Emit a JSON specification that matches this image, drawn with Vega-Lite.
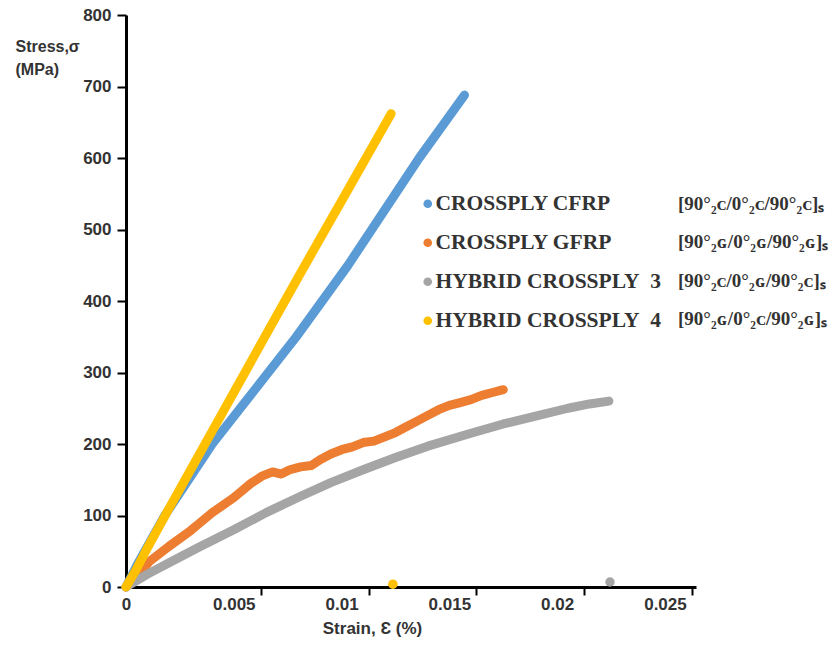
{
  "$schema": "https://vega.github.io/schema/vega-lite/v6.json",
  "width": 570,
  "height": 572,
  "autosize": {"type": "none"},
  "padding": {"left": 126, "top": 15, "right": 139, "bottom": 59},
  "background": "white",
  "config": {
    "view": {"stroke": null},
    "font": "Liberation Sans",
    "legend": {
      "orient": "none",
      "title": null,
      "padding": 0,
      "labelFont": "Liberation Serif",
      "labelFontSize": 21.5,
      "labelFontWeight": "bold",
      "labelColor": "#333333",
      "labelLimit": 0,
      "rowPadding": 16,
      "labelOffset": -3,
      "symbolSize": 75,
      "symbolType": "circle"
    }
  },
  "datasets": {
    "curves": [
      {"series": "CROSSPLY CFRP", "notation": "[90°₂ᴄ/0°₂ᴄ/90°₂ᴄ]ₛ", "strain": 0, "stress": 0},
      {"series": "CROSSPLY CFRP", "notation": "[90°₂ᴄ/0°₂ᴄ/90°₂ᴄ]ₛ", "strain": 0.0005, "stress": 30},
      {"series": "CROSSPLY CFRP", "notation": "[90°₂ᴄ/0°₂ᴄ/90°₂ᴄ]ₛ", "strain": 0.001, "stress": 57},
      {"series": "CROSSPLY CFRP", "notation": "[90°₂ᴄ/0°₂ᴄ/90°₂ᴄ]ₛ", "strain": 0.0018, "stress": 100},
      {"series": "CROSSPLY CFRP", "notation": "[90°₂ᴄ/0°₂ᴄ/90°₂ᴄ]ₛ", "strain": 0.0029, "stress": 150},
      {"series": "CROSSPLY CFRP", "notation": "[90°₂ᴄ/0°₂ᴄ/90°₂ᴄ]ₛ", "strain": 0.004, "stress": 200},
      {"series": "CROSSPLY CFRP", "notation": "[90°₂ᴄ/0°₂ᴄ/90°₂ᴄ]ₛ", "strain": 0.0053, "stress": 250},
      {"series": "CROSSPLY CFRP", "notation": "[90°₂ᴄ/0°₂ᴄ/90°₂ᴄ]ₛ", "strain": 0.0066, "stress": 300},
      {"series": "CROSSPLY CFRP", "notation": "[90°₂ᴄ/0°₂ᴄ/90°₂ᴄ]ₛ", "strain": 0.0079, "stress": 350},
      {"series": "CROSSPLY CFRP", "notation": "[90°₂ᴄ/0°₂ᴄ/90°₂ᴄ]ₛ", "strain": 0.0091, "stress": 400},
      {"series": "CROSSPLY CFRP", "notation": "[90°₂ᴄ/0°₂ᴄ/90°₂ᴄ]ₛ", "strain": 0.0103, "stress": 450},
      {"series": "CROSSPLY CFRP", "notation": "[90°₂ᴄ/0°₂ᴄ/90°₂ᴄ]ₛ", "strain": 0.0114, "stress": 500},
      {"series": "CROSSPLY CFRP", "notation": "[90°₂ᴄ/0°₂ᴄ/90°₂ᴄ]ₛ", "strain": 0.0125, "stress": 550},
      {"series": "CROSSPLY CFRP", "notation": "[90°₂ᴄ/0°₂ᴄ/90°₂ᴄ]ₛ", "strain": 0.0136, "stress": 600},
      {"series": "CROSSPLY CFRP", "notation": "[90°₂ᴄ/0°₂ᴄ/90°₂ᴄ]ₛ", "strain": 0.0147, "stress": 646},
      {"series": "CROSSPLY CFRP", "notation": "[90°₂ᴄ/0°₂ᴄ/90°₂ᴄ]ₛ", "strain": 0.0157, "stress": 688},

      {"series": "CROSSPLY GFRP", "notation": "[90°₂ɢ/0°₂ɢ/90°₂ɢ]ₛ", "strain": 0, "stress": 0},
      {"series": "CROSSPLY GFRP", "notation": "[90°₂ɢ/0°₂ɢ/90°₂ɢ]ₛ", "strain": 0.0005, "stress": 14},
      {"series": "CROSSPLY GFRP", "notation": "[90°₂ɢ/0°₂ɢ/90°₂ɢ]ₛ", "strain": 0.0011, "stress": 36},
      {"series": "CROSSPLY GFRP", "notation": "[90°₂ɢ/0°₂ɢ/90°₂ɢ]ₛ", "strain": 0.002, "stress": 57},
      {"series": "CROSSPLY GFRP", "notation": "[90°₂ɢ/0°₂ɢ/90°₂ɢ]ₛ", "strain": 0.003, "stress": 79},
      {"series": "CROSSPLY GFRP", "notation": "[90°₂ɢ/0°₂ɢ/90°₂ɢ]ₛ", "strain": 0.0034, "stress": 89},
      {"series": "CROSSPLY GFRP", "notation": "[90°₂ɢ/0°₂ɢ/90°₂ɢ]ₛ", "strain": 0.004, "stress": 104},
      {"series": "CROSSPLY GFRP", "notation": "[90°₂ɢ/0°₂ɢ/90°₂ɢ]ₛ", "strain": 0.005, "stress": 125},
      {"series": "CROSSPLY GFRP", "notation": "[90°₂ɢ/0°₂ɢ/90°₂ɢ]ₛ", "strain": 0.0058, "stress": 145},
      {"series": "CROSSPLY GFRP", "notation": "[90°₂ɢ/0°₂ɢ/90°₂ɢ]ₛ", "strain": 0.0063, "stress": 155},
      {"series": "CROSSPLY GFRP", "notation": "[90°₂ɢ/0°₂ɢ/90°₂ɢ]ₛ", "strain": 0.0068, "stress": 161},
      {"series": "CROSSPLY GFRP", "notation": "[90°₂ɢ/0°₂ɢ/90°₂ɢ]ₛ", "strain": 0.0072, "stress": 158},
      {"series": "CROSSPLY GFRP", "notation": "[90°₂ɢ/0°₂ɢ/90°₂ɢ]ₛ", "strain": 0.0076, "stress": 164},
      {"series": "CROSSPLY GFRP", "notation": "[90°₂ɢ/0°₂ɢ/90°₂ɢ]ₛ", "strain": 0.0081, "stress": 168},
      {"series": "CROSSPLY GFRP", "notation": "[90°₂ɢ/0°₂ɢ/90°₂ɢ]ₛ", "strain": 0.0086, "stress": 170},
      {"series": "CROSSPLY GFRP", "notation": "[90°₂ɢ/0°₂ɢ/90°₂ɢ]ₛ", "strain": 0.009, "stress": 178},
      {"series": "CROSSPLY GFRP", "notation": "[90°₂ɢ/0°₂ɢ/90°₂ɢ]ₛ", "strain": 0.0095, "stress": 186},
      {"series": "CROSSPLY GFRP", "notation": "[90°₂ɢ/0°₂ɢ/90°₂ɢ]ₛ", "strain": 0.010, "stress": 192},
      {"series": "CROSSPLY GFRP", "notation": "[90°₂ɢ/0°₂ɢ/90°₂ɢ]ₛ", "strain": 0.0105, "stress": 196},
      {"series": "CROSSPLY GFRP", "notation": "[90°₂ɢ/0°₂ɢ/90°₂ɢ]ₛ", "strain": 0.011, "stress": 202},
      {"series": "CROSSPLY GFRP", "notation": "[90°₂ɢ/0°₂ɢ/90°₂ɢ]ₛ", "strain": 0.0115, "stress": 204},
      {"series": "CROSSPLY GFRP", "notation": "[90°₂ɢ/0°₂ɢ/90°₂ɢ]ₛ", "strain": 0.012, "stress": 210},
      {"series": "CROSSPLY GFRP", "notation": "[90°₂ɢ/0°₂ɢ/90°₂ɢ]ₛ", "strain": 0.0125, "stress": 216},
      {"series": "CROSSPLY GFRP", "notation": "[90°₂ɢ/0°₂ɢ/90°₂ɢ]ₛ", "strain": 0.013, "stress": 224},
      {"series": "CROSSPLY GFRP", "notation": "[90°₂ɢ/0°₂ɢ/90°₂ɢ]ₛ", "strain": 0.0135, "stress": 232},
      {"series": "CROSSPLY GFRP", "notation": "[90°₂ɢ/0°₂ɢ/90°₂ɢ]ₛ", "strain": 0.014, "stress": 240},
      {"series": "CROSSPLY GFRP", "notation": "[90°₂ɢ/0°₂ɢ/90°₂ɢ]ₛ", "strain": 0.0145, "stress": 248},
      {"series": "CROSSPLY GFRP", "notation": "[90°₂ɢ/0°₂ɢ/90°₂ɢ]ₛ", "strain": 0.015, "stress": 254},
      {"series": "CROSSPLY GFRP", "notation": "[90°₂ɢ/0°₂ɢ/90°₂ɢ]ₛ", "strain": 0.0155, "stress": 258},
      {"series": "CROSSPLY GFRP", "notation": "[90°₂ɢ/0°₂ɢ/90°₂ɢ]ₛ", "strain": 0.016, "stress": 262},
      {"series": "CROSSPLY GFRP", "notation": "[90°₂ɢ/0°₂ɢ/90°₂ɢ]ₛ", "strain": 0.0165, "stress": 268},
      {"series": "CROSSPLY GFRP", "notation": "[90°₂ɢ/0°₂ɢ/90°₂ɢ]ₛ", "strain": 0.017, "stress": 272},
      {"series": "CROSSPLY GFRP", "notation": "[90°₂ɢ/0°₂ɢ/90°₂ɢ]ₛ", "strain": 0.0175, "stress": 276},

      {"series": "HYBRID CROSSPLY  3", "notation": "[90°₂ᴄ/0°₂ɢ/90°₂ᴄ]ₛ", "strain": 0, "stress": 0},
      {"series": "HYBRID CROSSPLY  3", "notation": "[90°₂ᴄ/0°₂ɢ/90°₂ᴄ]ₛ", "strain": 0.001, "stress": 18},
      {"series": "HYBRID CROSSPLY  3", "notation": "[90°₂ᴄ/0°₂ɢ/90°₂ᴄ]ₛ", "strain": 0.002, "stress": 34},
      {"series": "HYBRID CROSSPLY  3", "notation": "[90°₂ᴄ/0°₂ɢ/90°₂ᴄ]ₛ", "strain": 0.0034, "stress": 56},
      {"series": "HYBRID CROSSPLY  3", "notation": "[90°₂ᴄ/0°₂ɢ/90°₂ᴄ]ₛ", "strain": 0.005, "stress": 80},
      {"series": "HYBRID CROSSPLY  3", "notation": "[90°₂ᴄ/0°₂ɢ/90°₂ᴄ]ₛ", "strain": 0.0065, "stress": 104},
      {"series": "HYBRID CROSSPLY  3", "notation": "[90°₂ᴄ/0°₂ɢ/90°₂ᴄ]ₛ", "strain": 0.0081, "stress": 127},
      {"series": "HYBRID CROSSPLY  3", "notation": "[90°₂ᴄ/0°₂ɢ/90°₂ᴄ]ₛ", "strain": 0.0095, "stress": 146},
      {"series": "HYBRID CROSSPLY  3", "notation": "[90°₂ᴄ/0°₂ɢ/90°₂ᴄ]ₛ", "strain": 0.011, "stress": 164},
      {"series": "HYBRID CROSSPLY  3", "notation": "[90°₂ᴄ/0°₂ɢ/90°₂ᴄ]ₛ", "strain": 0.0125, "stress": 181},
      {"series": "HYBRID CROSSPLY  3", "notation": "[90°₂ᴄ/0°₂ɢ/90°₂ᴄ]ₛ", "strain": 0.014, "stress": 197},
      {"series": "HYBRID CROSSPLY  3", "notation": "[90°₂ᴄ/0°₂ɢ/90°₂ᴄ]ₛ", "strain": 0.016, "stress": 215},
      {"series": "HYBRID CROSSPLY  3", "notation": "[90°₂ᴄ/0°₂ɢ/90°₂ᴄ]ₛ", "strain": 0.0175, "stress": 228},
      {"series": "HYBRID CROSSPLY  3", "notation": "[90°₂ᴄ/0°₂ɢ/90°₂ᴄ]ₛ", "strain": 0.019, "stress": 239},
      {"series": "HYBRID CROSSPLY  3", "notation": "[90°₂ᴄ/0°₂ɢ/90°₂ᴄ]ₛ", "strain": 0.0205, "stress": 250},
      {"series": "HYBRID CROSSPLY  3", "notation": "[90°₂ᴄ/0°₂ɢ/90°₂ᴄ]ₛ", "strain": 0.0215, "stress": 256},
      {"series": "HYBRID CROSSPLY  3", "notation": "[90°₂ᴄ/0°₂ɢ/90°₂ᴄ]ₛ", "strain": 0.0224, "stress": 260},

      {"series": "HYBRID CROSSPLY  4", "notation": "[90°₂ɢ/0°₂ᴄ/90°₂ɢ]ₛ", "strain": 0, "stress": 0},
      {"series": "HYBRID CROSSPLY  4", "notation": "[90°₂ɢ/0°₂ᴄ/90°₂ɢ]ₛ", "strain": 0.0005, "stress": 26},
      {"series": "HYBRID CROSSPLY  4", "notation": "[90°₂ɢ/0°₂ᴄ/90°₂ɢ]ₛ", "strain": 0.001, "stress": 55},
      {"series": "HYBRID CROSSPLY  4", "notation": "[90°₂ɢ/0°₂ᴄ/90°₂ɢ]ₛ", "strain": 0.002, "stress": 110},
      {"series": "HYBRID CROSSPLY  4", "notation": "[90°₂ɢ/0°₂ᴄ/90°₂ɢ]ₛ", "strain": 0.003, "stress": 164},
      {"series": "HYBRID CROSSPLY  4", "notation": "[90°₂ɢ/0°₂ᴄ/90°₂ɢ]ₛ", "strain": 0.004, "stress": 218},
      {"series": "HYBRID CROSSPLY  4", "notation": "[90°₂ɢ/0°₂ᴄ/90°₂ɢ]ₛ", "strain": 0.005, "stress": 272},
      {"series": "HYBRID CROSSPLY  4", "notation": "[90°₂ɢ/0°₂ᴄ/90°₂ɢ]ₛ", "strain": 0.006, "stress": 326},
      {"series": "HYBRID CROSSPLY  4", "notation": "[90°₂ɢ/0°₂ᴄ/90°₂ɢ]ₛ", "strain": 0.007, "stress": 380},
      {"series": "HYBRID CROSSPLY  4", "notation": "[90°₂ɢ/0°₂ᴄ/90°₂ɢ]ₛ", "strain": 0.008, "stress": 434},
      {"series": "HYBRID CROSSPLY  4", "notation": "[90°₂ɢ/0°₂ᴄ/90°₂ɢ]ₛ", "strain": 0.009, "stress": 487},
      {"series": "HYBRID CROSSPLY  4", "notation": "[90°₂ɢ/0°₂ᴄ/90°₂ɢ]ₛ", "strain": 0.010, "stress": 540},
      {"series": "HYBRID CROSSPLY  4", "notation": "[90°₂ɢ/0°₂ᴄ/90°₂ɢ]ₛ", "strain": 0.011, "stress": 593},
      {"series": "HYBRID CROSSPLY  4", "notation": "[90°₂ɢ/0°₂ᴄ/90°₂ɢ]ₛ", "strain": 0.012, "stress": 646},
      {"series": "HYBRID CROSSPLY  4", "notation": "[90°₂ɢ/0°₂ᴄ/90°₂ɢ]ₛ", "strain": 0.0123, "stress": 662}
    ],
    "ends": [
      {"series": "HYBRID CROSSPLY  4", "notation": "[90°₂ɢ/0°₂ᴄ/90°₂ɢ]ₛ", "strain": 0.01238, "stress": 4},
      {"series": "HYBRID CROSSPLY  3", "notation": "[90°₂ᴄ/0°₂ɢ/90°₂ᴄ]ₛ", "strain": 0.02245, "stress": 7}
    ]
  },
  "encoding": {
    "x": {
      "field": "strain",
      "type": "quantitative",
      "scale": {"domain": [0, 0.02644], "nice": false, "zero": false},
      "axis": {
        "values": [0, 0.005, 0.01, 0.015, 0.02, 0.025],
        "format": "~g",
        "grid": false,
        "domainColor": "black",
        "domainWidth": 3,
        "tickColor": {"condition": {"test": "datum.value == 0", "value": "transparent"}, "value": "black"},
        "tickWidth": 2,
        "tickSize": 8,
        "tickOffset": 27,
        "labelOffset": -27,
        "labelPadding": 1,
        "labelFont": "Liberation Sans",
        "labelFontSize": 17,
        "labelFontWeight": "bold",
        "labelColor": "#333333",
        "labelFlush": false,
        "title": "Strain, Ɛ (%)",
        "titleFont": "Liberation Sans",
        "titleFontSize": 17,
        "titleFontWeight": "bold",
        "titleColor": "#333333",
        "titleAnchor": null,
        "titleAlign": "center",
        "titleX": 246,
        "titleY": 41,
        "titleBaseline": "middle"
      }
    },
    "y": {
      "field": "stress",
      "type": "quantitative",
      "scale": {"domain": [0, 800], "nice": false},
      "axis": {
        "values": [0, 100, 200, 300, 400, 500, 600, 700, 800],
        "grid": false,
        "domainColor": "black",
        "domainWidth": 3,
        "tickColor": "black",
        "tickWidth": 2,
        "tickSize": 9,
        "labelPadding": 6,
        "labelFont": "Liberation Sans",
        "labelFontSize": 17,
        "labelFontWeight": "bold",
        "labelColor": "#333333",
        "labelFlush": false,
        "title": ["Stress,σ", "(MPa)"],
        "titleFont": "Liberation Sans",
        "titleFontSize": 16,
        "titleFontWeight": "bold",
        "titleColor": "#333333",
        "titleAngle": 0,
        "titleAnchor": null,
        "titleAlign": "left",
        "titleBaseline": "alphabetic",
        "titleLineHeight": 23,
        "titleX": -111,
        "titleY": 36
      }
    },
    "color": {
      "field": "series",
      "type": "nominal",
      "scale": {
        "domain": ["CROSSPLY CFRP", "CROSSPLY GFRP", "HYBRID CROSSPLY  3", "HYBRID CROSSPLY  4"],
        "range": ["#5B9BD5", "#ED7D31", "#A5A5A5", "#FFC000"]
      },
      "legend": {
        "orient": "none",
        "legendX": 291,
        "legendY": 178,
        "symbolType": "circle",
        "symbolStrokeWidth": 0,
        "labelExpr": "replace(datum.label, '  ', '\u00a0 ')"
      }
    }
  },
  "layer": [
    {
      "data": {"name": "curves"},
      "mark": {"type": "line", "strokeWidth": 9, "strokeCap": "round", "strokeJoin": "round"}
    },
    {
      "data": {"name": "ends"},
      "mark": {"type": "point", "filled": true, "size": 90, "opacity": 1},
      "encoding": {
        "shape": {
          "field": "notation",
          "type": "nominal",
          "scale": {
            "domain": ["[90°₂ᴄ/0°₂ᴄ/90°₂ᴄ]ₛ", "[90°₂ɢ/0°₂ɢ/90°₂ɢ]ₛ", "[90°₂ᴄ/0°₂ɢ/90°₂ᴄ]ₛ", "[90°₂ɢ/0°₂ᴄ/90°₂ɢ]ₛ"],
            "range": ["circle", "circle", "circle", "circle"]
          },
          "legend": {
            "orient": "none",
            "legendX": 536,
            "legendY": 179,
            "labelFontSize": 19,
            "rowPadding": 18.5,
            "symbolOpacity": 0,
            "symbolStrokeWidth": 0
          }
        }
      }
    }
  ]
}
